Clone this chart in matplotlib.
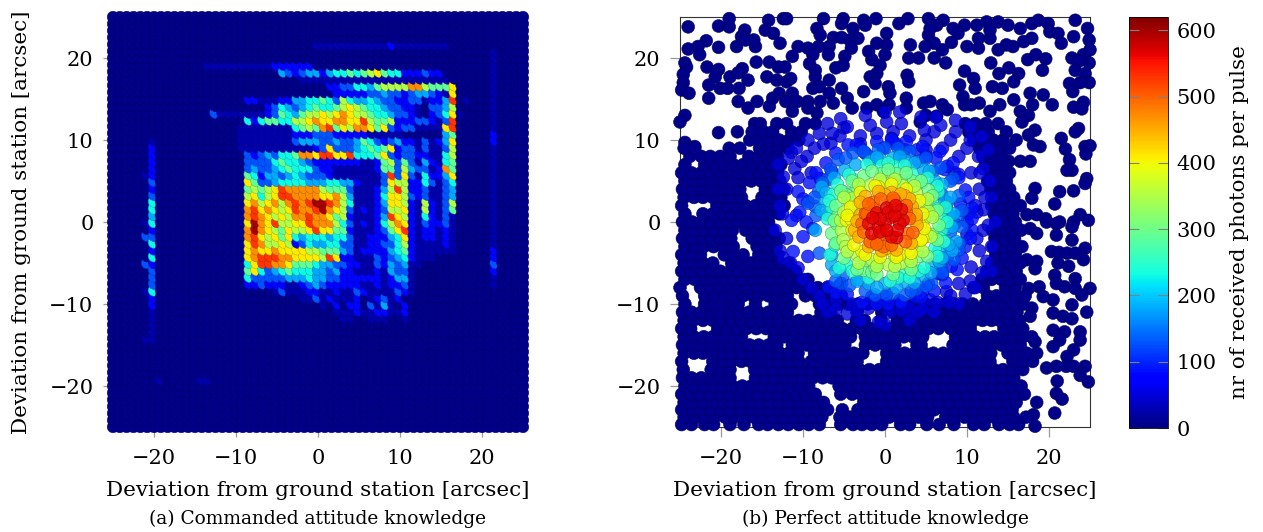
import numpy as np
import matplotlib
matplotlib.use("Agg")
import matplotlib.pyplot as plt
from matplotlib.cm import ScalarMappable
from matplotlib.colors import Normalize

plt.rcParams["font.family"] = ["DejaVu Serif"]
plt.rcParams["axes.unicode_minus"] = True

x_label = "Deviation from ground station [arcsec]"
y_label = "Deviation from ground station [arcsec]"
bar_label = "nr of received photons per pulse"
caption_a = "(a) Commanded attitude knowledge"
caption_b = "(b) Perfect attitude knowledge"
ticks = [-20, -10, 0, 10, 20]
bar_ticks = [0, 100, 200, 300, 400, 500, 600]

grid_x = np.linspace(-25, 25, 61)
grid_y = np.linspace(25, -25, 61)
level_values = [5, 25, 80, 130, 180, 230, 290, 350, 410, 470, 530, 600]
field_rows = [
    "", "", "", "",
    "30:11111111111211111111",
    "56:1",
    "56:1",
    "14:1111111111222222 56:1",
    "25:432344245565678655222322 56:1",
    "28:1111111111111111111111 56:1",
    "32:2233554677779976668 56:1",
    "33:222223343323443218 56:1",
    "20:221112244556537544543322331224a 52:1 56:1",
    "23:23543456556787655433221 47:3347 56:1",
    "15:3 16:1111111 23:23654677878987765543321 47:2358 51:1 56:1",
    "20:52566557789889988a 38:7667 42:22233213a 56:1",
    "19:11111111 27:56769a6879986832331111 49:8a 56:1",
    "19:111111112223332222211111 49:46 56:2",
    "6:1 19:11111111 27:344433433465323422131248 56:2",
    "6:2 19:11111111111 30:238333456568 42:233131137 56:1",
    "6:2 20:32343556998aa88a555683233221157 56:1",
    "6:2 20:3333565543222222211267363142156 56:1",
    "6:2 20:34334565553221 34:111112 40:66374 45:331296 56:1",
    "5:1 6:2 20:6524434543332 33:1111111 40:3a383 45:152248 56:1",
    "6:3 20:86334555544455442 37:111 40:38772 45:253135 56:1",
    "6:2 20:67678a99999766631 37:112 40:47a72 45:231134 56:1",
    "6:3 20:78578aa9999889741 37:112 40:58873 45:231134 56:1",
    "6:5 20:8978979a9abba9751 37:112 40:48872 45:172137 56:1",
    "6:5 20:9a89878a99ab98731 37:212 40:37782 45:172136 56:1",
    "6:4 20:9a9878799a9986721 37:112 40:4a872 45:152131 56:1",
    "5:1 6:5 20:8b98a7788a9997531 37:212 40:57982 45:132231 56:1",
    "6:2 20:9b98768778a886621 37:112 40:368a2 45:122121 56:1",
    "5:3 6:3 20:9a878685455545531 37:122 40:24582 45:122121 56:1",
    "6:5 20:8a977872354455331 37:122 40:33572 45:111121 56:1",
    "6:2 20:89889888877666431 37:222 40:24562 45:111111 56:2",
    "6:5 20:89aaa9988887a8221 37:113 40:23452 45:111 56:2",
    "5:3 6:2 20:58aa9986665443322 37:113 40:24341 45:1 56:3",
    "6:3 20:68534565554434221 37:112 40:14331 56:2",
    "6:3 20:53333344454433222 37:222 40:12441 56:1",
    "6:3 20:22322211234322222 37:112 40:12231 56:1",
    "5:1 6:5 24:1311122112113211 40:11321",
    "6:2 28:11312111 36:2 38:1 39:2 40:3 41:1 42:2",
    "6:2 31:1 33:2 35:2 36:2 38:3 39:1 40:4 41:1 43:2",
    "6:1 33:11121 38:1 39:2 40:2 41:1 42:1 43:2",
    "6:1 34:11 38:111 43:1",
    "6:1", "6:1", "5:1 6:1", "", "", "", "", "",
    "7:1 13:11", "", "", "", "", "", "", "",
]

# panel b: sparse points, all near zero photons
far_x = [-24, -20.3, -19, -19, -14.2, -14.6, -12.4, -12, -17.1, -17.5, -7.5, -8.3, -7.9, -5.1, -5.3, -3.9, -2.6, -2.4, -1.1,
         1.7, 2.8, 5.3, 7.1, 6.3, 8.3, 9.7, 8.9, 5.3, 5.5, 11.2, 12.4, 13.8, 15, 16.5, 17.9, 18.7, 19.9, 20.1, 21.1, 23.2,
         24.7, 24.9, 23, 21.5, 17.9, 16.9, 15.6, 14.8, 13.8, 12.8, 12.8, 11.4, 11.4, 10, 8.1, 7, 6, 6, 4.9, 3.1, 4.1, 2.9,
         7.4, 0.2, 0.2, -1, 0, -2, -1.6, -0.6, -1, -1.8, -1.2, -3.3, -4.3, -6.3, -5.3, -4.1, -6.8, -6.9, -4.9, -5.1, -6,
         -8.1, -9.4, -10.6, -11.3, -8.8, -9.2, -8.5, -8.5, -6.8, -13.6, -12.8, -15.8, -16, -17, -18.1, -20.3, -21.8, -22.8,
         -24, -22.6, -24.4, -24.2, -21.7, -20.3, -20.7, -21.5, -20.1, -18.9, -19.2, -17.4, -17.9, -15.7, -16.7, -17.8,
         -24.6, -24.6, -24.8, -23.9, -21.5, -14.1, -13, -12.2, -14.4, -13.2, -12, -11.5, -8.8, -8, -17.9, -16.7, -15.6,
         -14.1, -13.7, -12.9, -11.3, -12.1, -10.7, -9.4, -11.3, -8.3, -9.4, -7.9, -6.8, -5.3, -4.6, -6.3, -4, -2.6, -2.2,
         -1, 0.4, 0.6, 0.5, -0.2, 2.6, 2.6, 2.7, 2.9, 4.7, 5.5, 7, 7.6, 5, 6.3, 4.3, 9.1, 9.7, 10.8, 11, 9.5, 9.7, 11.5,
         10.5, 13.1, 14.3, 12.9, 13.9, 15.1, 16.3, 15.7, 17.4, 18.4, 19.6, 19.2, 17.7, 19.3, 20.4, 18, 15.7, 16.5, 17.5,
         14, 12.8, 22.8, 24.2, 25, 24.9, 23.6, 23.2, 24.4, 24.9, 23.8, 22.5, 22.9, 24.2, 23, 24, 23.6, 23.2, 21.5, 22,
         24.4, 25, 24.5, 22.5, 22.8, 22.2, 24.6, 24.4, 21.3, 23, 20.7, 23.8, 24.8, 21.3, 23, 18.3, 17.9, 17.3, 18.5, 19.6,
         17.7, 16.5, 15.1, 18.3, 17.5, 18.9, 18.1, 16.7, -20.3, -24.4, -25, -24.4, -23.2, -18, -15.9, -15.2, 17.7, 18.5,
         19.7, 20.9, 20.9, 22.8, 22.8, 24.4, 24.2, 20.3, 21.2, 22.2, 23.2, 21.1, 20.7, 20.9, 21.9, 23.2, 22.4, 23.2, 25,
         24, 20.5, 22.8, 20.5, 21.7, 22.8, 24.6, 20.5, 21.9, 23.8, 21.3, 23.8, 20.5, 23, 22.2, 18.5, 17.3, 18.3, 17.5, 18.8,
         19.3, 17.9, 17.7, 18.3, 18.5, 19.7, 20.9, 22.1, 23, 24.4, 24.8, 23.8, 21, 20.9, 21.6, 20.7, 18.3, 18.1, 18.5]
far_y = [23.8, 23.9, 23.8, 24.8, 24.6, 23.4, 24.8, 24.8, 23.4, 22.6, 24.8, 23.6, 22.8, 24.8, 24.2, 23.6, 24.6, 24, 24.8,
         24.2, 24.8, 24.8, 24.6, 24, 23.6, 24, 23, 22.8, 23.6, 24, 24.4, 24.4, 24, 23.6, 24.2, 24.6, 24.2, 23.2, 23, 24.6,
         23.6, 22.2, 22.6, 21.8, 22.4, 22, 21.4, 21.6, 21, 22.4, 23.4, 22.4, 21.2, 21.4, 21.9, 21, 21.8, 20, 21.4, 21.6, 20, 20,
         19.4, 23, 21.6, 21.8, 20.4, 20.8, 19.8, 19.1, 18.1, 17.7, 16.9, 22.4, 22.2, 22.5, 22.5, 21.2, 21.4, 20.4, 20.2, 19.1, 18.8,
         21.4, 21.2, 21.4, 20.2, 20.4, 19.3, 18.5, 17.7, 17.3, 23, 21.8, 21.4, 22.2, 22.2, 21.4, 21.3, 22.1, 21.4,
         21.1, 20.4, 19.4, 18.9, 18.9, 18.6, 17.7, 16.7, 16.3, 17.7, 16.3, 18.7, 18.2, 19.5, 17.3, 16.3,
         18, 17, 16.1, 15.7, 15.1, 19.5, 18.9, 18.9, 17.7, 17.3, 17.1, 17.5, 16.3, 16.5, 14.7, 13.9, 14.7,
         14.1, 15.1, 15.7, 15.7, 14.7, 14.7, 14.7, 13.5, 13.3, 13.9, 14.7, 15.7, 16.3, 15.1, 14.5, 13.9, 15.9, 13.9,
         14.3, 16.5, 15.7, 14.3, 13.5, 15.1, 13.9, 17.9, 17.1, 14.5, 14.7, 14.3, 13.7, 13, 12.9, 12.2, 16.7, 18.4, 17.5, 16.3, 15.3, 14.3, 14.5,
         14.3, 16.5, 16.3, 19.4, 18.1, 18.8, 18.1, 17.1, 19.8, 20.4, 19.9, 18.5, 15.7, 15.5, 14.3, 14.3, 14.9, 13.5, 13,
         14.3, 13.5, 20, 20.4, 21, 19.4, 19.6, 18.5, 18.1, 17, 17, 16.9, 15.9, 14.6, 14, 13.8, 11.4, 11, 10.2, 8.9,
         9.2, 9.3, 8.3, 7.6, 6.3, 6.3, 5.3, 4.7, 3.7, 3.8, 2.2, 0.9, 0.2, 0, 0, 4.1, 2.9, 0.9, 0.9, 0.4,
         7.4, 7.4, 7.4, 11.2, 10.6, 9.2, 9.4, 12.2, 10.9, 13, 12.2, 9.7, 9.2, 11, 12, 12, -0.8, -1.4,
         0, -0.2, -1.6, -0.6, -2.2, -3.2, -4.6, -3.6, -3.7, -3.8, -3.8, -5, -6.5, -7.5, -7.9, -6.9, -5.4, -8.1, -8.1,
         -8.9, -9.5, -10.1, -11.1, -11.5, -11.8, -11, -13.2, -13.4, -13.4, -14.4, -14.4, -15.2, -15.6, -16.4, -4.8, -4.6, -5.7, -8.1, -7.9,
         -9.1, -10.5, -11.5, -14.6, -16, -17.8, -17.6, -17.6, -17.6, -17.6, -19.5, -18.7, -19.4, -20.9, -21.6, -23.3, -24.9, -23.5, -22]
far_photons = 6

# dense lower field and the two side blocks, row by row
dense_y = [-24.7, -23.8, -22.9, -22, -21, -20, -19, -18, -17, -16, -15, -14, -13, -12, -11, -10, -9, -8, -7, -6, -5,
           -4, -3, -2, -1, 0, 1, 2, 3, 4, 5, 6, 7, 8, 9, 10, 11, 12]
dense_x = [
    [-24.8, -23.6, -22, -20.9, -18.9, -17.2, -15.4, -14.3, -13, -11.8, -10.5, -9.3, -8, -5.4, -3.9, -2.8, -1.6, -0.4, 1.9, 3, 5.1, 6.6, 8.4, 10.8, 12.1, 13.9, 15.2, 16.3],
    [-24.5, -23.2, -22.1, -20.8, -19.5, -18.4, -17.2, -16, -14.9, -13.7, -12.4, -11.2, -10.1, -8.8, -7.7, -5.5, -4.3, -3.2, -1.9, -0.7, 0.5, 1.7, 2.9, 4.1, 5.2, 7.4, 8.6, 9.7, 10.9, 12, 13.3, 14.4, 15.7, 17.2],
    [-24.8, -23.5, -22.4, -21.2, -20, -18.9, -17.6, -16.4, -15.3, -14.1, -12.9, -11.7, -10.6, -9.4, -8.3, -7, -5.2, -3.3, -2.2, -1, 0.2, 1.4, 2.5, 3.7, 4.9, 6, 7.3, 8.5, 9.6, 10.8, 12, 13.1, 14.3, 15.5],
    [-24.5, -23.4, -22.2, -21, -19.8, -18.7, -17.5, -16.3, -15.2, -14, -12.8, -11.7, -10.5, -9.3, -8.2, -7.5, -2.6, -1.4, -0.3, 0.9, 2.1, 3.2, 4.4, 5.6, 6.7, 7.9, 9.1, 10.2, 11.4, 12.6, 13.7, 14.9, 16],
    [-24.8, -23.6, -22.5, -21.3, -20.1, -19, -17.8, -16.6, -15.5, -14.3, -13.1, -12, -10.8, -9.6, -8.5, -5.4, -4, -2.9, -1.7, -0.5, 0.6, 1.8, 3, 4.1, 5.3, 6.5, 7.6, 8.8, 10, 11.1, 12.3, 13.5, 14.6, 15.8, 17],
    [-24.4, -23.3, -22.1, -20.9, -19.8, -18.6, -17.4, -16.3, -15.1, -13.9, -12.8, -11.6, -10.4, -9.3, -5.6, -4.4, -3.2, -2.1, -0.9, 0.3, 1.4, 2.6, 3.8, 4.9, 6.1, 7.3, 8.4, 9.6, 10.8, 11.9, 13.1, 14.3, 15.4, 16.6],
    [-24.7, -23.6, -22.4, -21.2, -20.1, -18.9, -15.8, -14.6, -13.5, -12.3, -11.1, -10, -8.8, -7.6, -6.5, -5.3, -4.1, -3, -1.8, -0.6, 0.5, 1.7, 2.9, 4, 5.2, 6.4, 7.5, 8.7, 9.9, 11, 12.2, 13.4, 14.5, 15.7],
    [-24.6, -21.2, -20, -18.9, -15.9, -14.7, -13.6, -12.4, -11.2, -10.1, -8.9, -7.7, -6.6, -5.4, -4.2, -3.1, -1.9, -0.7, 0.4, 1.6, 2.8, 3.9, 5.1, 6.3, 7.4, 8.6, 9.8, 10.9, 12.1, 13.3, 14.4, 15.6, 16.8],
    [-24.8, -21, -19.9, -18.7, -17.5, -16.4, -15.2, -14, -12.9, -11.7, -10.5, -9, -7.6, -6.4, -5.2, -4.3, -3.4, 0.2, 1.1, 2.3, 3.4, 4.6, 5.8, 6.9, 8.1, 9.3, 10.4, 11.6, 12.8, 15.6, 16.8, 18],
    [-24.5, -23.3, -22.2, -21, -19.8, -18.7, -17.5, -16.3, -15.2, -14, -12.8, -11.7, -10.6, -8.6, -7.4, -6.2, -5, -3.8, -2.7, 0.2, 1.3, 2.4, 3.6, 4.8, 5.9, 7.1, 8.3, 9.4, 10.6, 11.8, 12.9, 15, 16.2, 17.3],
    [-24.7, -23.5, -22.4, -21.2, -20, -18.9, -17.7, -16.5, -15.4, -14.2, -13.2, -11.3, -10.7, -9.5, -8.4, -7.2, -6, -4.9, -2.4, -1.2, 0, 1.2, 3.9, 4.4, 8.3, 9.5, 10.7, 11.9, 13, 14.2, 15.4, 16.5],
    [-24.5, -23.3, -22.1, -21, -19.8, -18.6, -17.5, -13.5, -12.3, -11.1, -10, -8.8, -7.6, -6.5, -5.3, -4.2, -2.4, -1.2, -0.1, 1.1, 2.3, 3.4, 4.6, 8.6, 9.8, 11, 12.2, 13.3, 14.5, 15.7, 16.8, 17.9],
    [-24.8, -23.7, -20.4, -19.2, -18, -16.9, -15.7, -14.5, -13.4, -12.2, -11, -9.9, -8.7, -7.5, -6.4, -5.2, -4, -2.9, -1.7, -0.5, 0.6, 1.8, 3, 4.1, 5.3, 6.5, 8, 9.2, 10.4, 14.5, 15.7, 16.8],
    [-24.5, -23.4, -22.2, -21, -19.9, -18.7, -17.5, -16.4, -15.2, -14, -12.9, -11.7, -10.5, -9.4, -8.2, -7, -5.8, -3.5, -2.5, -0.5, 1.5, 2.7, 3.8, 5, 6.2, 7.3, 8.5, 9.7, 10.8, 11.9, 13, 14, 15.2, 16.4],
    [-24.7, -23.6, -22.4, -21.2, -20.1, -18.9, -17.7, -16.6, -15.4, -14.2, -13.1, -11.9, -7.8, -6.6, -3.4, -0.4, 1, 2.2, 3.4, 4.6, 5.8, 7, 8.1, 9.2, 10.2, 11.4, 12.6, 13.7, 14.9, 16.1],
    [-24.4, -22, -21, -19.9, -18.7, -17.9, -15.8, -13.4, -12.5, -11.4, -8, -6.8, -5.6, -4.5, -3.3, -2.1, -1, 0.2, 1.4, 2.5, 3.7, 4.9, 6.1, 7.3, 8.4, 9.5, 10.7, 12.2, 13.4, 14.5, 15.7, 16.9],
    [-24.7, -22, -20.8, -19.6, -18.5, -17.3, -16.1, -15.4, -14.2, -13, -11.9, -9.7, -8.5, -7.7, -6.5, -5.3, 12.5, 13.6, 14.8, 16, 17.1],
    [-25, -22.5, -21.3, -20.2, -19, -17.8, -16.7, -15.5, -14.3, -13.2, -12, -10.8, -9.3, -8.2, -7, -5.7, 10.8, 12, 14.7, 15.9],
    [-24.4, -23.2, -22, -20.9, -19.7, -18.5, -17.4, -16.2, -15, -13.9, -12.7, -11.5, -10.4, -9.4, 11.8, 13, 14.2, 15.4, 16.5],
    [-24.8, -23.6, -22.4, -21.3, -20.1, -18.9, -17.8, -16.6, -15.4, -14.3, -13.1, -12, -10.9, 12.4, 13.6, 14.8, 16],
    [-24.5, -23.3, -22.2, -21, -18.7, -17.5, -16.3, -15.2, -14, -12.8, -11.7, 13, 14.2, 15.3, 16.5],
    [-24.8, -23.6, -22.5, -19.6, -18.5, -17.3, -15.4, -14.2, -13.1, 13.5, 14.7, 15.9],
    [-24.4, -23.2, -22.1, -20.9, -19.7, -18.5, -15.6, -14.4, -13.3, 13.2, 14.4, 15.6, 16.7],
    [-24.7, -23.5, -22.3, -21.2, -20, -18.8, -16.2, -15.2, -14.1, -12.9, 13.4, 14.6, 15.8],
    [-24.4, -23.3, -22.1, -20.9, -19.8, -18.6, -17, -16, -14.8, -13.7, 13.1, 14.3, 15.5, 16.6],
    [-24.7, -23.5, -22.4, -21.2, -20, -18.9, -17.7, -16.5, -15.4, -14.2, 13.5, 14.7, 15.9],
    [-24.4, -22.2, -21, -19.9, -18.7, -17.5, -16.4, -15.2, -14, -12.9, 13.3, 14.4, 15.6],
    [-24.8, -20.5, -19.3, -18.1, -17, -15.8, -14.6, -13.5, -12.3, 13, 14.2, 15.4, 16.5],
    [-24.5, -23.3, -22.2, -21, -19.8, -18.7, -17.5, -15, -13.9, -12.7, 13.4, 14.5, 15.7],
    [-24.7, -23.5, -22.4, -21.2, -20, -18.9, -17.7, -14.6, -13.5, -12.3, 12.9, 14.1, 15.2],
    [-24.4, -23.3, -22.1, -20.9, -19.8, -18.6, -17.4, -16.3, -15.1, -13.9, -12.8, 12.5, 13.6, 14.8],
    [-24.8, -23.6, -22.4, -21.3, -20.1, -18.9, -17.8, -16.6, -15.4, -14.3, -13.1, 12.9, 14.1, 15.2],
    [-24.4, -22, -20.8, -19.7, -18.5, -17.3, -16.2, -15, -13.8, -12.7, 12.3, 13.5, 14.7],
    [-23.8, -22.4, -21.3, -20.1, -18.9, -16.6, -15.4, -14.3, -13.1, 11.9, 13, 14.2],
    [-24.5, -23.2, -19, -17.7, -15.3, -14.2, -13, -11.8, 11.5, 12.7, 13.9, 15.2],
    [-16.5, -15.2, -14.1, -12.9, -11.7, -10.5, 10.8, 12, 13.2, 14.4, 16],
    [-16.2, -14.8, -13.7, -11.4, -10.2, 10.2, 11.4, 12.6, 14.8],
    [-13.2, -12, -9.7, -8.5, 9.8, 11, 12.3, 13.8],
]
dense_photons = 8

# panel b: points around the beam centre, grouped by colour band
band_photons = [50, 85, 130, 180, 240, 300, 350, 400, 450, 500, 565]
band_x = [
    [-1, 1, 3, 5, 7, 9, 10.5, 11.5, 12, 12, 11.5, 10.5, 9, 7.5, 5.5, 3, 0.5, -2, -4, -6, -8, -10, -11.5, -12, -12.5, -12, -11, -9.5, -7.5, -5.5, -3, 6, 8, 10, 12, 13, 13.5, 13, 13, 11, 9, 6, 3, 0, -3, -7, -3, 1, 5, 8.5, 10.2, 10, -10.8, -12.8, -11.4, -9, 11, 12.8, 8, 4, 0.8, -5,
     -13, -12.4, -10.2, -8.6, -6.6, -6.4, -4.6, -1.8, 0.2, 2, 4.8, 6.8, 8.6, 10.4, 11.4, 11.6, 12.2, 11.2, 12.6, 11.2, 12.4, 11.8, 10.4, 9.8, 7.8, 6.4, 4.6, 2, -0.8, -3.4, -4.6, -6, -7.6, -9, -10.6, -12.4, -13.4, -12.8, -13, -10.6, -11.8, -10.8, -9.4, -8, -7, -5.4, -2.4, 0, 1.8, 4.4, 6.2, 8.6, 10.4, 11.8, 12.6],
    [-4.5, -3.5, -2.4, -0.2, 3.9, 6.7, 8.3, 9.8, 10.6, 10.6, 9.8, 8.1, 6.5, 5.3, 3.7, 0, -1.6, -5.5, -6.9, -9.4, -11.2, -10, -9.6, -11.4, -9.4, -10.6, -6.5, -7.9, 1.4, 2.4, 5, 7.3, 9, 9.2, 10, 7, 4.6, 1.8, -8.8, -3,
     -10.4, -10, -9.2, -8.4, -7.2, -6, -1, 0.8, 2.6, 4.6, 6.2, 7.6, 9, 10.2, 10.6, 10.4, 9.4, 8.8, 7.4, 6, 4.4, 2, 0.4, -1, -2.8, -6, -4.6],
    [-3.9, -5.7, -6.9, -8.1, -8.5, 0, 4.1, 5.9, 6.9, 8.3, 8.9, 8.5, 9.1, 7.6, 5.7, 2.4, 1, -1.2, -5.3, -4.3, -8, -9.4, -5.1, -2, 2, 7.6, 8, 6.8, 7.5, 3.8,
     -8.4, -8.6, -7.6, -6.6, -4.8, -2.6, -0.8, 1.6, 3, 5, 6.8, 8, 9, 9.4, 9.4, 9, 8.4, 7, 5, 3.2, 0.2, -2.4, -6],
    [-7.1, -7.3, -1.8, 1, 2.6, 7.3, 8.7, 5.7, 2.4, 0, -2, -6.5, -6.5, -8.5, -7.7, -4.9, 7.8, 7.6, 8.2, 6.6, 4.7, -0.6, 4.6, 6.2, 6.6, -3.2,
     -7.8, -7.2, -6.2, -3.6, -1, 1.8, 3.6, 5.4, 7, 8, 8.4, 8.2, 7.8, 7, 5.6, 3.6, 1.4, -1, -3.4, -6],
    [-5.1, -6.3, -6.5, -0.4, 3.3, 6.5, 6.9, 6.9, 6.1, 4.1, -4.7, -6.7, -3.9, 4.5, 5.8, 6.4, -6.1, 1.2, 6.7, 2.4, 1.6,
     -7, -6.8, -5.8, -4.4, -2.2, 0.4, 2.4, 5.2, 6.4, 7.4, 7.6, 7.2, 6.4, 4.8, 3, 0.6, -2, -4, -5.6],
    [-2.6, -0.4, 1.4, -3.7, -4.5, 4.9, 5.3, -5.7, -6.5, 4.1, -2.6, -1.6, 3.3, 2, -2.4, -0.8, -4.7, 5.6, 5.8, -5.9, -1.2, 3, -3.4,
     -6.2, -6, -5.4, -4, -1.6, 0.4, 2.6, 4.4, 5.8, 6.4, 6.6, 6.4, 5.2, 3.2, 1, -1, -3.4, -5, -6],
    [-1.8, -3.9, -4.1, 2.8, 3.4, 5.3, 5.1, 4.1, -5.3, -5.1, -1.6, 0.4, 2, 0.8, -0.4, 4.6, -4.8, 3, -3.4, -4.2, 1.2, 2.2, 3.8, 4.8,
     -5.4, -5, -5, -3.2, -0.6, 1.2, 3.6, 5.2, 5.8, 5.6, 4.6, 3.2, 1.2, -1, -3.2, -4.6],
    [3.7, -3.5, -4.7, -4.1, 2.9, 0.6, -0.8, -2.8, 4.3, -3.2, -0.8, 2.4, 3.4, 1.8, 4.6,
     -4, -3.8, -2.4, -0.6, 1.4, 3.2, 4.4, 4.8, 4.6, 4.2, 2.6, 0.8, -1.2, -3, -4.2, -4.6],
    [-2.4, 0.8, 0, -3, -3.7, 1.6, 3.3, -1.5, -2.4, 2.4, 3.8, 0.2,
     -3.4, -3.2, -2, -0.4, 1.4, 3.2, 3.9, 3.8, 3, 1.9, -0.8, -3],
    [-1.4, 0.8, 0, -0.8, -0.2, -1.8, -2.8, 2.8, 3.4, 1.2, -1.2, 2.6, -2.4,
     -2.2, -2.6, -0.5, 2.6, 3, 2.5, 0.8, -1, 1, -2],
    [-2, -1.6, -1, 0.2, 2, 2.2, 0.8, 0, 1.4, 0.8, -0.8, 1.8,
     0.4, -0.6, 1.2, 1.5, -0.6, 0.2, -1.5, 1.3],
]
band_y = [
    [10.8, 11, 10.5, 10, 9, 8, 6, 4, 1.5, -1, -3.5, -5.5, -7.5, -8.5, -9.5, -10.5, -11, -10.5, -10, -9.5, -9, -7, -5, -2, 1, 4, 6.5, 8, 9.5, 10.5, 10.5, 11, 10, 9, 6.5, 3, 0, -3, -6, -8, -10, -11, -12, -12.5, -12, -11, 9.5, 9.8, 8.8, 6, 1, -1.5, 0.8, -3.5, 8.5, 6, 2, 5, -9, -11, 10.2, 11.5,
     7, 5.5, 7.4, 9, 9.6, 10.8, 11.6, 11.8, 12.2, 12, 11.2, 11.8, 11, 10, 8, 6, 3, 1.2, -0.4, -2, -4.8, -6.2, -7.2, -8.8, -9.8, -9.8, -10.6, -10.8, -12.2, -10.8, -11.2, -10.6, -10, -8, -5.6, -4.4, -1, 2, 4, 5.4, 7.8, 9, 10, 10.8, 12, 12.6, 13, 13.4, 13.4, 12.8, 12.8, 12.4, 11.6, 10.4, 8.8],
    [9.4, 9.4, 8.4, 9, 8.8, 8.6, 7.2, 3.9, 1.7, -1, -3, -5.4, -6.3, -7.5, -9.1, -9.1, -9.1, -7.7, -7.9, -4.2, -3.6, -1.8, 0, 0.2, 2.5, 3.7, 6.1, 5.3, 9.5, 8.8, 8, 6.4, 5.8, 2.2, 0, -6.4, -8.4, -9.6, -0.8, 9,
     1.2, 2.8, 4.8, 6, 7.2, 8.4, 9.8, 10, 9.8, 9.2, 7.8, 6.8, 5.4, 3, 0.4, -2, -4.4, -5.8, -7.4, -8.4, -9.2, -9.8, -10, -10, -9.8, -8.6, -8.8],
    [8.4, 7.6, 5.2, 3.7, 1.9, 9, 7.4, 6.2, 3.4, 5.3, 0.7, -0.2, -2.6, -4.2, -7.5, -8.9, -8.7, -8.9, -7.5, -7.7, -3.8, 2.3, -6.5, 8, 8.3, 2.4, -1.2, -5.4, 1.6, -8.2,
     0.8, 3, 4.8, 6.4, 7.8, 8.6, 8.8, 9, 8.6, 7.8, 6.6, 5, 3.2, 1.4, -0.6, -3.4, -4.6, -6.2, -7.8, -8.4, -8.8, -8.4, -7.2],
    [0.9, 2.5, 7.4, 7.8, 7.4, 2.5, -2.4, -5.2, -7.3, -7.5, -7.5, -4, -5.2, -1, 4.3, 6.3, 0.8, -0.8, -3.5, -4.8, 6.4, 7.7, -6.5, 4.9, -3.4, -7,
     1.4, 3.6, 5.4, 7, 7.9, 8, 7.2, 6.2, 4.6, 3, 1, -0.6, -2.8, -4.4, -6.2, -7.4, -8, -8, -7.2, -6],
    [3.7, 3.4, 1.8, 6.9, 5.9, 3.7, 0.4, -1, -3.2, -6, -5.2, -4, 5.2, 4.8, 2.2, 1.6, -2.8, 6.8, -2, -6.4, -6.8,
     0.4, 2.6, 4.6, 5.8, 7, 7.2, 6.9, 5.4, 4.4, 1.8, 0, -2.4, -4.2, -5.6, -6.8, -7.2, -6.8, -6, -5.6],
    [5.6, 5.9, 5.9, 3.7, 2.7, 2.3, 3.9, 0.9, -1.4, -4.2, -5.9, -6.1, 5, 5, -4.7, -5, 3.3, 0.9, -1.5, -0.2, -5.6, -5.4, 4.2,
     0.2, 2, 3.8, 5, 6.2, 6.4, 6, 5, 3.2, 1.4, -0.4, -2.2, -4.2, -5.8, -6.4, -6.4, -5.8, -4.4, -2.6],
    [4.5, 2.9, 1.7, 3.7, 2.5, 1.3, -1.4, -2.8, -1, -2.2, -4.6, -5.2, -5, 4.8, 4.8, 0, -3, -4.4, -4, 0.8, -4.2, 4.4, 3.6, 0.4,
     0.2, 1.2, 3, 4.6, 5.2, 5.2, 4.4, 2.8, 0.6, -1.8, -3.6, -4.8, -5.4, -5.4, -5, -3.6],
    [1, -1.8, 0.2, 0.3, -3.5, -3.4, 4.3, -3.6, -0.4, 2.2, 3.8, 3, -2.4, -4, -2,
     -1, -2.8, -4, -4.3, -4.3, -3.8, -2.2, -0.8, 1, 2.6, 4, 4.6, 4.4, 3.6, 1.8, 0.8],
    [3.1, 3.6, 3.3, 0.9, -1, 2.7, 1.9, -2.6, 1.8, 3.2, 0.4, -3.2,
     0.1, -1.8, -3, -3.5, -3.4, -2.6, -0.4, 0.9, 2.8, 3.4, 3.7, 2.4],
    [2.4, 2.5, -1.6, -1.8, -3, -2.4, -0.2, -1.4, -1.3, 2.6, 1.6, 1.2, 1,
     1, -1.2, 2.8, 2, 0.4, -2.4, -2.8, -2.7, 2.9, 2.2],
    [-0.2, -1.4, 1.1, 1.7, 1.5, 0.2, 0.6, -0.2, -1.9, -1.8, -0.6, -0.2,
     1.2, 0.4, 0.8, -1, -1.2, -1, 0.5, 2],
]

# gather the points of both panels
low_x = list(far_x)
low_y = list(far_y)
for row_y, row_x in zip(dense_y, dense_x):
    low_x += row_x
    low_y += [row_y] * len(row_x)
low_v = [far_photons] * len(far_x) + [dense_photons] * (len(low_x) - len(far_x))
beam_x = list(low_x)
beam_y = list(low_y)
beam_v = list(low_v)
for v, xs, ys in zip(band_photons, band_x, band_y):
    beam_x += xs
    beam_y += ys
    beam_v += [v] * len(xs)

field = np.full((61, 61), level_values[0])
for row, spec in enumerate(field_rows):
    for part in spec.split():
        col, digits = part.split(":")
        for k, ch in enumerate(digits):
            field[row, int(col) + k] = level_values[int(ch, 16)]
xx, yy = np.meshgrid(grid_x, grid_y)

norm = Normalize(0, 620)
cmap = plt.get_cmap("jet")


def dots(ax, x, y, v, size, alpha, line):
    faces = cmap(norm(np.asarray(v)))
    edges = faces.copy()
    edges[:, :3] *= 0.65
    faces[:, 3] = alpha
    faces[np.asarray(v) < 40, 3] = 1.0
    edges[:, 3] = 0.8
    ax.scatter(x, y, s=size, facecolors=faces, edgecolors=edges, linewidths=line, clip_on=False, zorder=3)


W, H = 1263, 532
fig = plt.figure(figsize=(W / 100, H / 100), dpi=100)
ax_a = fig.add_axes([113 / W, (H - 427) / H, 410 / W, 410 / H])
ax_b = fig.add_axes([680 / W, (H - 427) / H, 410 / W, 410 / H])
cax = fig.add_axes([1129 / W, (H - 428) / H, 39 / W, 411 / H])

# column by column, bottom to top, so each dot shows only a leaning sliver
dots(ax_a, xx[::-1].ravel(order="F"), yy[::-1].ravel(order="F"), field[::-1].ravel(order="F"), 70, 1.0, 0.35)
dots(ax_b, beam_x, beam_y, beam_v, 85, 0.8, 0.5)

for ax in (ax_a, ax_b):
    ax.set_xlim(-25, 25)
    ax.set_ylim(-25, 25)
    ax.set_xticks(ticks)
    ax.set_yticks(ticks)
    ax.set_axisbelow(True)
    ax.tick_params(length=7, width=0.9, color="#9a9a9a", labelsize=15)
    ax.tick_params(axis="x", pad=9)
    ax.tick_params(axis="y", pad=7)
    for side in ax.spines.values():
        side.set_linewidth(0.8)
        side.set_color("#333333")
        side.set_zorder(1)
    ax.set_xlabel(x_label, fontsize=15.4, labelpad=9)
ax_a.set_ylabel(y_label, fontsize=15.4, labelpad=13)

cbar = fig.colorbar(ScalarMappable(norm=norm, cmap=cmap), cax=cax, ticks=bar_ticks)
cbar.ax.tick_params(direction="in", left=True, right=True, length=7, width=0.8, color="#808080", labelsize=15, pad=6)
cbar.outline.set_linewidth(0.6)
cbar.set_label(bar_label, fontsize=15.4, labelpad=10)

fig.text(318 / W, 1 - 519 / H, caption_a, ha="center", va="center", fontsize=13.4)
fig.text(885 / W, 1 - 519 / H, caption_b, ha="center", va="center", fontsize=13.4)

fig.savefig("out.png", dpi=100)
